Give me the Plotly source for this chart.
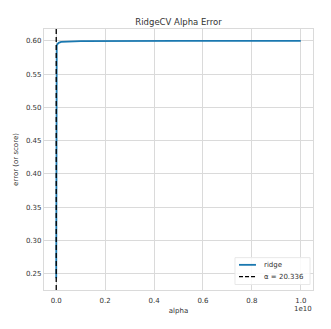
import plotly.graph_objects as go

# Data
alphas = [1e-10, 1e-6, 1e-2, 1, 10, 20.336, 100, 1e3, 1e4, 1e5, 1e6, 1e7,
          2e7, 5e7, 1e8, 2e8, 5e8, 1e9, 5e9, 1e10]
errors = [0.2440, 0.2440, 0.2439, 0.2436, 0.2434, 0.2433, 0.2445, 0.2600,
          0.3500, 0.5000, 0.5750, 0.5915, 0.5930, 0.5950, 0.5970, 0.5983,
          0.5992, 0.5996, 0.5999, 0.5999]
best_alpha = 20.336
series_name = "ridge"
x_ticks = [0, 0.2e10, 0.4e10, 0.6e10, 0.8e10, 1.0e10]
x_tick_labels = ["0.0", "0.2", "0.4", "0.6", "0.8", "1.0"]
y_ticks = [0.25, 0.30, 0.35, 0.40, 0.45, 0.50, 0.55, 0.60]
y_tick_labels = ["0.25", "0.30", "0.35", "0.40", "0.45", "0.50", "0.55", "0.60"]

line_color = "#1a78b0"
grid_color = "#dadada"
font = "DejaVu Sans"
text_color = "#333333"
dash_style = "5px,3px"

fig = go.Figure()
fig.add_trace(go.Scatter(x=alphas, y=errors, mode="lines", name=series_name,
                         showlegend=False,
                         line=dict(color=line_color, width=1.8)))
fig.add_vline(x=best_alpha, line=dict(color="black", width=1.3, dash=dash_style),
              layer="above")

xmin, xmax = 0, max(alphas)
xpad = 0.05 * (xmax - xmin)
ymin, ymax = min(errors), max(errors)
ypad = 0.05 * (ymax - ymin)

fig.update_layout(
    width=331, height=329,
    margin=dict(l=44, r=18, t=29, b=39),
    paper_bgcolor="white", plot_bgcolor="white",
    font=dict(family=font, size=7, color=text_color),
    title=dict(text="RidgeCV Alpha Error", x=0.5, xref="paper", xanchor="center",
               y=1, yref="paper", yanchor="bottom", pad=dict(b=4),
               font=dict(size=8.5, color=text_color)),
    showlegend=False,
)
fig.update_xaxes(range=[xmin - xpad, xmax + xpad], tickvals=x_ticks,
                 ticktext=x_tick_labels, showgrid=True, gridcolor=grid_color,
                 gridwidth=1, zeroline=False, showline=True, linecolor=grid_color,
                 linewidth=1.2, mirror=True, ticks="", ticklabelstandoff=3,
                 title=dict(text="alpha", standoff=4, font=dict(size=7)))
fig.update_yaxes(range=[ymin - ypad, ymax + ypad], tickvals=y_ticks,
                 ticktext=y_tick_labels, showgrid=True, gridcolor=grid_color,
                 gridwidth=1, zeroline=False, showline=True, linecolor=grid_color,
                 linewidth=1.2, mirror=True, ticks="",
                 title=dict(text="error (or score)", standoff=6, font=dict(size=7)))
fig.add_annotation(text="1e10", xref="paper", yref="paper", x=1.0, y=0,
                   xanchor="right", yanchor="top", yshift=-13, xshift=1,
                   showarrow=False, font=dict(size=7, color=text_color))

# Legend box (drawn manually to match matplotlib's compact legend)
fig.add_shape(type="rect", xref="paper", yref="paper",
              x0=0.710, x1=0.989, y0=0.021, y1=0.124,
              fillcolor="rgba(255,255,255,0.85)", line=dict(color="#e8e8e8", width=1),
              layer="above")
legend_rows = [
    (series_name, dict(color=line_color, width=1.8), 0.0964),
    ("α = %.3f" % best_alpha, dict(color="black", width=1.3, dash="4px,2px"), 0.0516),
]
for label, ln, yy in legend_rows:
    fig.add_shape(type="line", xref="paper", yref="paper",
                  x0=0.725, x1=0.788, y0=yy, y1=yy, line=ln, layer="above")
    fig.add_annotation(text=label, xref="paper", yref="paper", x=0.8086, y=yy,
                       xanchor="left", yanchor="middle", showarrow=False,
                       font=dict(size=7, color=text_color))

fig.write_html("out.html")
